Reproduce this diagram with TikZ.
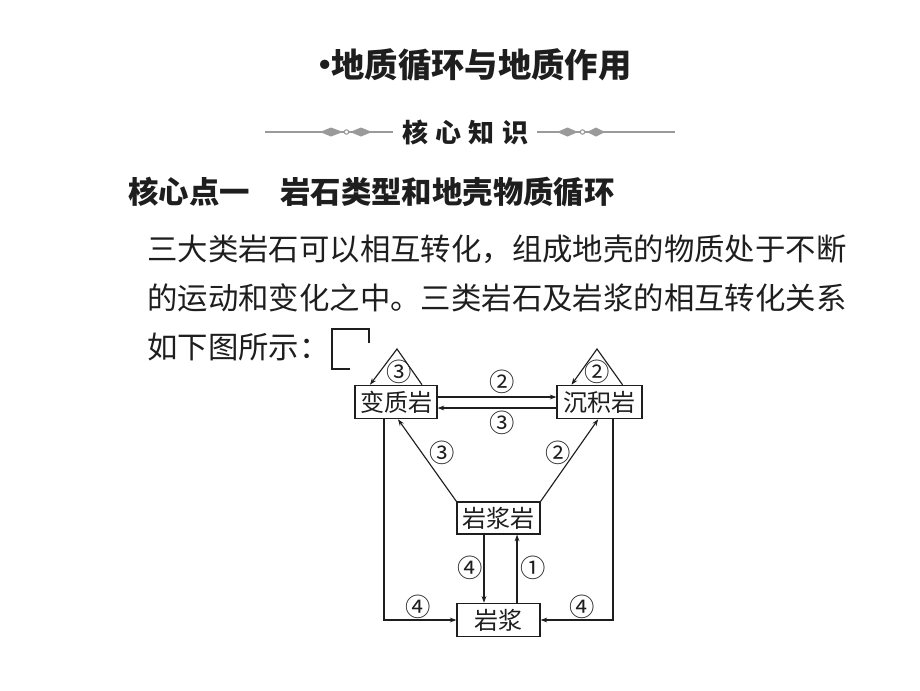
\documentclass[tikz,border=0pt]{standalone}
\usepackage{fontspec}
\setmainfont{Noto Sans CJK SC}
\usetikzlibrary{arrows.meta}
\definecolor{ink}{HTML}{1E1E1E}
\definecolor{orn}{HTML}{9A9A9A}
\begin{document}
\begin{tikzpicture}[x=0.75pt,y=-0.75pt,
  every node/.style={text=ink},
  txt/.style={anchor=west, inner sep=0pt, font=\fontsize{22.8pt}{22.8pt}\selectfont},
  box/.style={draw=ink, line width=0.9pt, inner sep=0pt, minimum height=25pt,
    font=\fontsize{18pt}{18pt}\selectfont},
  conn/.style={draw=ink, line width=0.85pt},
  arr/.style={conn, -{Stealth[length=5pt,width=3.6pt]}},
  num/.style={inner sep=0pt, font=\fontsize{19pt}{19pt}\selectfont},
  ornline/.style={draw=orn, line width=0.8pt},
  ornfill/.style={fill=orn, draw=none}]
\useasboundingbox[fill=white] (0,0) rectangle (920,690);

% title
\node[anchor=west, inner sep=0pt, font=\fontsize{25pt}{25pt}\selectfont\bfseries] (title) at (308,65) {•\hspace{-7.5pt}地质循环与地质作用};

% subheading with ornaments
\node[inner sep=0pt, font=\fontsize{19.5pt}{19.5pt}\selectfont\bfseries] (kx) at (465,132) {核\hspace{5.5pt}心\hspace{5.5pt}知\hspace{5.5pt}识};
\draw[ornline] (265,132) -- (393,132);
\draw[ornline] (537,132) -- (675,132);
\fill[ornfill] (320,132) -- (331,127.5) -- (343,132) -- (331,136.5) -- cycle;
\fill[ornfill] (350,132) -- (361,127.5) -- (372,132) -- (361,136.5) -- cycle;
\draw[orn, line width=0.8pt, fill=white] (346.5,132) circle (2.2);
\fill[ornfill] (557,132) -- (567.5,127.5) -- (578,132) -- (567.5,136.5) -- cycle;
\fill[ornfill] (587,132) -- (596,127.5) -- (605,132) -- (596,136.5) -- cycle;
\draw[orn, line width=0.8pt, fill=white] (582.5,132) circle (2.2);

% heading
\node[txt, font=\fontsize{22.8pt}{22.8pt}\selectfont\bfseries] (head) at (128,192) {核心点一　岩石类型和地壳物质循环};

% paragraph
\node[txt] (p1) at (147,249) {三大类岩石可以相互转化，组成地壳的物质处于不断};
\node[txt] (p2) at (147,298) {的运动和变化之中。三类岩石及岩浆的相互转化关系};
\node[txt] (p3) at (147,347) {如下图所示：};

% bracket mark
\draw[ink, line width=2.2pt] (369,343) -- (369,329) -- (332,329) -- (332,369) -- (350,369);

% boxes
\node[box, minimum width=61.5pt] (bz) at (396,402) {变质岩};
\node[box, minimum width=63.75pt] (cj) at (599.5,402) {沉积岩};
\node[box, minimum width=62.25pt, minimum height=24pt] (jjy) at (498.5,518) {岩浆岩};
\node[box, minimum width=62.25pt] (jj) at (498.5,620) {岩浆};

% self loops (triangles)
\coordinate (bzA) at (397,349);
\coordinate (cjA) at (597,349);
\draw[arr] ([xshift=19.5pt]bz.north) -- (bzA) -- ([xshift=-19.5pt]bz.north);
\draw[arr] ([xshift=17.25pt]cj.north) -- (cjA) -- ([xshift=-21pt]cj.north);
\node[num] (n1) at (399,372) {③};
\node[num] (n2) at (597,372) {②};

% horizontal pair
\draw[arr] ([yshift=3.75pt]bz.east) -- ([yshift=3.75pt]cj.west);
\draw[arr] ([yshift=-4.5pt]cj.west) -- ([yshift=-4.5pt]bz.east);
\node[num] (n3) at (502,382) {②};
\node[num] (n4) at (502,423) {③};

% diagonals
\draw[arr] (jjy.north west) -- ([xshift=1.5pt]bz.south);
\draw[arr] (jjy.north east) -- ([xshift=-1pt]cj.south);
\node[num] (n5) at (442,453) {③};
\node[num] (n6) at (558,453) {②};

% outer paths to magma
\draw[arr] ([xshift=-9pt]bz.south) |- (jj.west);
\draw[arr] ([xshift=10.1pt]cj.south) |- (jj.east);
\node[num] (n7) at (418,607) {④};
\node[num] (n8) at (582,607) {④};

% vertical pair
\draw[arr] ([xshift=-10.9pt]jjy.south) -- ([xshift=-10.9pt]jj.north);
\draw[arr] ([xshift=13.9pt]jj.north) -- ([xshift=13.9pt]jjy.south);
\node[num] (n9) at (470,568) {④};
\node[num] (n10) at (533,568) {①};
\end{tikzpicture}
\end{document}
